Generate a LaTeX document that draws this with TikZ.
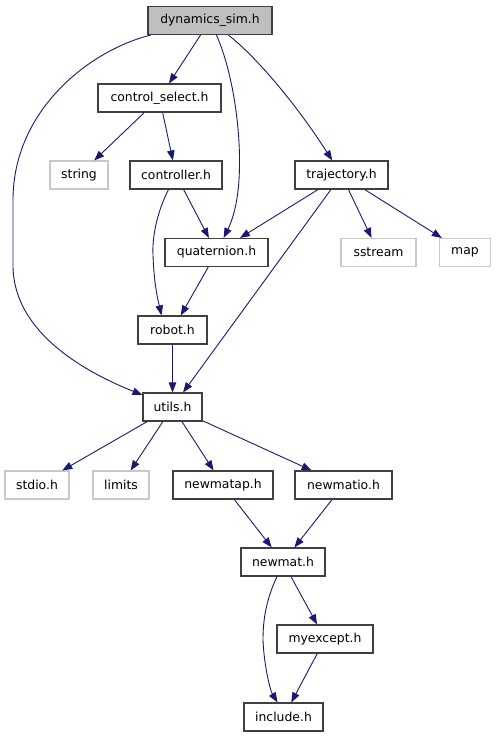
\documentclass[tikz,border=0pt]{standalone}
\usepackage{fontspec}
\setmainfont{DejaVu Sans}
\usetikzlibrary{arrows.meta}
\definecolor{edgecol}{HTML}{191970}
\definecolor{boxcol}{HTML}{404040}
\definecolor{extcol}{HTML}{C8C8C8}
\definecolor{fillcol}{HTML}{BFBFBF}
\begin{document}
\begin{tikzpicture}[x=1pt,y=-1pt,
  hnode/.style={draw=boxcol, line width=1.1pt, minimum height=28pt, inner sep=0pt, font=\fontsize{12.4}{14}\selectfont},
  extnode/.style={hnode, draw=extcol},
  dep/.style={draw=edgecol, line width=0.9pt, -{Triangle[length=10pt,width=7.5pt]}}]
\useasboundingbox (0,0) rectangle (496,736);
\node[hnode, fill=fillcol, minimum width=124pt] (dyn) at (210,20.5) {dynamics\_sim.h};
\node[hnode, minimum width=123pt] (csel) at (159.5,98) {control\_select.h};
\node[extnode, minimum width=58pt] (string) at (79,175) {string};
\node[hnode, minimum width=92pt] (ctrl) at (176,175) {controller.h};
\node[hnode, minimum width=93pt] (traj) at (341.5,175) {trajectory.h};
\node[hnode, minimum width=103pt] (quat) at (216.5,252.5) {quaternion.h};
\node[extnode, minimum width=75pt] (sstream) at (378.5,252.5) {sstream};
\node[extnode, minimum width=51pt] (map) at (465,252.5) {map};
\node[hnode, minimum width=69pt] (robot) at (172.5,330) {robot.h};
\node[hnode, minimum width=59pt] (utils) at (172.5,407) {utils.h};
\node[extnode, minimum width=64pt] (stdio) at (37,485) {stdio.h};
\node[extnode, minimum width=56pt] (limits) at (121,485) {limits};
\node[hnode, minimum width=100pt] (nmap) at (223,485) {newmatap.h};
\node[hnode, minimum width=97pt] (nmio) at (343.5,485) {newmatio.h};
\node[hnode, minimum width=84pt] (newmat) at (283,562) {newmat.h};
\node[hnode, minimum width=96pt] (myex) at (325,639) {myexcept.h};
\node[hnode, minimum width=79pt] (incl) at (283.5,717) {include.h};

\draw[dep] (dyn) -- (csel);
\draw[dep] (dyn) .. controls (90,50) and (13,110) .. (13,200) -- (13,265) .. controls (13,330) and (80,370) .. (utils);
\draw[dep] (dyn) .. controls (232,70) and (242,130) .. (239,180) .. controls (237,210) and (230,225) .. (quat);
\draw[dep] (dyn) .. controls (260,60) and (300,110) .. (traj);
\draw[dep] (csel) -- (string);
\draw[dep] (csel) -- (ctrl);
\draw[dep] (ctrl) -- (quat);
\draw[dep] (ctrl) .. controls (158,210) and (152,235) .. (153,255) .. controls (154,285) and (158,300) .. ([xshift=-11pt]robot.north);
\draw[dep] (traj) -- (quat);
\draw[dep] (traj) -- (utils);
\draw[dep] (traj) -- (sstream);
\draw[dep] (traj) -- (map);
\draw[dep] (quat) -- (robot);
\draw[dep] (robot) -- (utils);
\draw[dep] (utils) -- (stdio);
\draw[dep] (utils) -- (limits);
\draw[dep] (utils) -- (nmap);
\draw[dep] (utils) -- (nmio);
\draw[dep] (nmap) -- (newmat);
\draw[dep] (nmio) -- (newmat);
\draw[dep] ([xshift=-6pt]newmat.south) .. controls (266,600) and (263,620) .. (263,640) .. controls (264,665) and (270,690) .. ([xshift=-6pt]incl.north);
\draw[dep] (newmat) -- (myex);
\draw[dep] (myex) -- (incl);
\end{tikzpicture}
\end{document}
